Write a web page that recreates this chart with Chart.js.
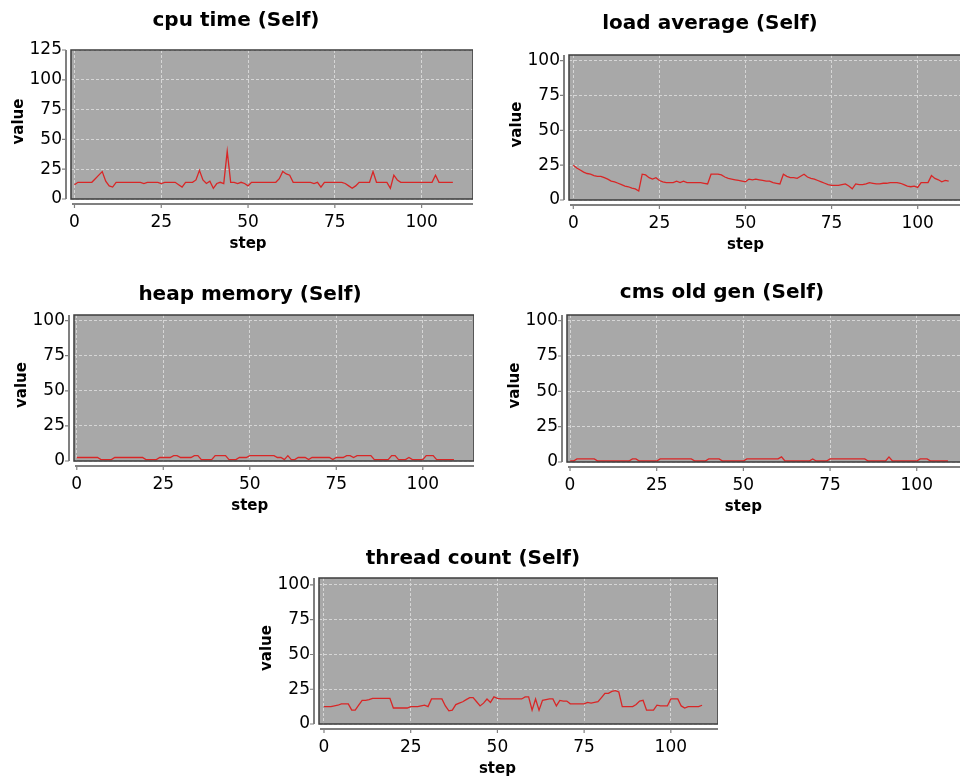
<!DOCTYPE html>
<html>
<head>
<meta charset="utf-8">
<script src="https://cdn.jsdelivr.net/npm/chart.js@4.4.1/dist/chart.umd.min.js"></script>
<style>
html,body{margin:0;padding:0;background:#ffffff;width:960px;height:780px;overflow:hidden;}
#wrap{position:relative;width:960px;height:780px;overflow:hidden;background:#ffffff;}
#wrap canvas{position:absolute;}
</style>
</head>
<body>
<div id="wrap">
<canvas id="c1"></canvas>
<canvas id="c2"></canvas>
<canvas id="c3"></canvas>
<canvas id="c4"></canvas>
<canvas id="c5"></canvas>
</div>
<script>
// ---------------- DATA ----------------
const steps = Array.from({length: 110}, (_, i) => i);
const xTickValues = [0, 25, 50, 75, 100];
const yTickValuesCpu = [0, 25, 50, 75, 100, 125];
const yTickValues = [0, 25, 50, 75, 100];
const xAxisTitle = 'step';
const yAxisTitle = 'value';

const chartTitles = ['cpu time (Self)', 'load average (Self)', 'heap memory (Self)', 'cms old gen (Self)', 'thread count (Self)'];

const cpuTime = [
  12,14,14,14,14,14,17,20,23,15, 11,10,14,14,14,14,14,14,14,14,
  13,14,14,14,14,13,14,14,14,14, 12,10,14,14,14,16,24,16,13,15,
  9,13,14,13,40,14,14,13,14,13, 11,14,14,14,14,14,14,14,14,17,
  23,21,20,14,14,14,14,14,14,13, 14,10,14,14,14,14,14,14,13,11,
  9,11,14,14,14,14,23,14,14,14, 14,9,20,16,14,14,14,14,14,14,
  14,14,14,14,20,14,14,14,14,14
];

const loadAverage = [
  25,23,21.5,20,19,18.5,17.5,17,17,16, 15,13.5,13,12,11,10,9.5,8.5,8,6.5,
  18.5,18,16,15,16,14,13,12.5,12.5,12.5, 13.5,12.5,13.5,12.5,12.5,12.5,12.5,12.5,12,11.5,
  18.5,18.5,18.5,18,16.5,15.5,15,14.5,14,13.5, 13,15,14.5,15,14.5,14,13.5,13.5,12.5,12,
  11.5,18.5,17,16,16,15.5,17,18.5,16.5,15.5, 15,14,13,12,11,10.5,10.5,10.5,11,11.5,
  10,8,11.5,11,11,11.5,12.5,12,11.5,11.5, 12,12,12.5,12.5,12.5,12,11,10,9.5,10,
  9,12.5,12.5,12.5,17.5,15.5,14.5,13,14,13.5
];

const heapMemory = [
  2.5,2.5,2.5,2.5,2.5,2.5,2.5,1,1,1, 1,2.5,2.5,2.5,2.5,2.5,2.5,2.5,2.5,2.5,
  1,1,1,1,2.5,2.5,2.5,2.5,3.8,3.8, 2.5,2.5,2.5,2.5,3.8,3.8,1,1,1,1,
  3.8,3.8,3.8,3.8,1,1,1,2.5,2.5,2.5, 3.8,3.8,3.8,3.8,3.8,3.8,3.8,3.8,2.5,2.5,
  1,3.8,1,1,2.5,2.5,2.5,1,2.5,2.5, 2.5,2.5,2.5,2.5,1,2.5,2.5,2.5,3.8,3.8,
  2.5,3.8,3.8,3.8,3.8,3.8,1,1,1,1, 1,3.8,3.8,1,1,1,2.5,1,1,1,
  1,3.8,3.8,3.8,1,1,1,1,1,1
];

const cmsOldGen = [
  0.7,0.7,2.2,2.2,2.2,2.2,2.2,2.2,0.7,0.7, 0.7,0.7,0.7,0.7,0.7,0.7,0.7,0.7,2.2,2.2,
  0.7,0.7,0.7,0.7,0.7,0.7,2.2,2.2,2.2,2.2, 2.2,2.2,2.2,2.2,2.2,2.2,0.7,0.7,0.7,0.7,
  2.2,2.2,2.2,2.2,0.7,0.7,0.7,0.7,0.7,0.7, 0.7,2.2,2.2,2.2,2.2,2.2,2.2,2.2,2.2,2.2,
  2.2,3.6,0.7,0.7,0.7,0.7,0.7,0.7,0.7,0.7, 2.2,0.7,0.7,0.7,0.7,2.2,2.2,2.2,2.2,2.2,
  2.2,2.2,2.2,2.2,2.2,2.2,0.7,0.7,0.7,0.7, 0.7,0.7,3.6,0.7,0.7,0.7,0.7,0.7,0.7,0.7,
  0.7,2.2,2.2,2.2,0.7,0.7,0.7,0.7,0.7,0.7
];

const threadCount = [
  12.5,12.5,12.5,13,13.5,14.5,14.5,14.5,10,10, 13.5,17,17,17.5,18.5,18.5,18.5,18.5,18.5,18.5,
  11.5,11.5,11.5,11.5,11.5,12.5,12.5,12.5,13,13.5, 12.5,18,18,18,18,13,9.5,10,14,15,
  16,17.5,19,19,16,13,15,18,15.5,19.5, 18.5,18,18,18,18,18,18,18,19.5,19.5,
  10,18,10,17,17.5,18,18,13,17,16.5, 16.5,14.5,14.5,14.5,14.5,14.5,15.5,15,15.5,16,
  19,22,22,23.5,24,23,12.5,12.5,12.5,12.5, 14,16.5,17,10,10,10,13.5,13,13,13,
  18,18,18,13,11.5,12.5,12.5,12.5,12.5,13.5
];

// ---------------- LAYOUT (positions of each panel's plot box) ----------------
const panels = [
  {id:'c1', title:chartTitles[0], values:cpuTime,     yTicks:yTickValuesCpu, yMax:125, PL:71,  PR:473, PT:50,  PB:199, CT:0,   TC:236, TY:21,  xMin:-1.0,  xMax:114.8},
  {id:'c2', title:chartTitles[1], values:loadAverage, yTicks:yTickValues,    yMax:104, PL:569, PR:969, PT:55,  PB:200, CT:0,   TC:710, TY:24,  xMin:-1.25, xMax:114.9},
  {id:'c3', title:chartTitles[2], values:heapMemory,  yTicks:yTickValues,    yMax:104, PL:74,  PR:474, PT:315, PB:461, CT:270, TC:250, TY:295, xMin:-0.8,  xMax:114.8},
  {id:'c4', title:chartTitles[3], values:cmsOldGen,   yTicks:yTickValues,    yMax:104, PL:567, PR:967, PT:315, PB:462, CT:270, TC:722, TY:293, xMin:-0.87, xMax:114.5},
  {id:'c5', title:chartTitles[4], values:threadCount, yTicks:yTickValues,    yMax:105, PL:319, PR:718, PT:578, PB:724, CT:535, TC:473, TY:559, xMin:-1.44, xMax:113.6}
];

const FONT = '"DejaVu Sans", Verdana, sans-serif';
const XH = 52;
const TITLE_SIZE = 20;

const framePlugin = {
  id: 'frame',
  beforeDraw(chart) {
    const {ctx, chartArea: a} = chart;
    ctx.save();
    ctx.fillStyle = '#a8a8a8';
    ctx.fillRect(a.left, a.top, a.right - a.left, a.bottom - a.top);
    ctx.restore();
  },
  afterDraw(chart, args, opts) {
    const {ctx, chartArea: a} = chart;
    const xs = chart.scales.x, ys = chart.scales.y;
    ctx.save();
    // plot border
    ctx.strokeStyle = '#3c3c3c';
    ctx.lineWidth = 1.5;
    ctx.strokeRect(a.left, a.top, a.right - a.left, a.bottom - a.top);
    // axis lines
    ctx.strokeStyle = '#808080';
    ctx.lineWidth = 2;
    ctx.beginPath();
    ctx.moveTo(a.left - 5, a.top);
    ctx.lineTo(a.left - 5, a.bottom);
    ctx.moveTo(a.left + 1, a.bottom + 5);
    ctx.lineTo(a.right, a.bottom + 5);
    ctx.stroke();
    // tick marks
    ctx.lineWidth = 1.2;
    ctx.beginPath();
    ys.ticks.forEach(t => {
      const y = ys.getPixelForValue(t.value);
      ctx.moveTo(a.left - 9, y); ctx.lineTo(a.left - 5, y);
    });
    xs.ticks.forEach(t => {
      const x = xs.getPixelForValue(t.value);
      ctx.moveTo(x, a.bottom + 5); ctx.lineTo(x, a.bottom + 9);
    });
    ctx.stroke();
    // axis titles
    ctx.fillStyle = '#000000';
    ctx.font = 'bold 15px ' + FONT;
    ctx.textAlign = 'center';
    ctx.textBaseline = 'middle';
    ctx.fillText(opts.xTitle, xs.getPixelForValue(50), a.bottom + 45);
    ctx.translate(a.left - 52, (a.top + a.bottom) / 2 - 3);
    ctx.rotate(-Math.PI / 2);
    ctx.fillText(opts.yTitle, 0, 0);
    ctx.restore();
  }
};

panels.forEach(p => {
  const a = 2 * p.TC - p.PR;          // outer left of title box
  const YW = p.PL - a;                // y-axis box width
  const CL = Math.min(a, p.PL - 70);  // canvas left
  const padL = a - CL;
  const W = p.PR - CL;
  const H = p.PB + XH - p.CT;
  const tPadTop = p.TY - p.CT - TITLE_SIZE * 0.6;
  const tPadBottom = (p.PT - p.CT) - tPadTop - TITLE_SIZE * 1.2;

  const cv = document.getElementById(p.id);
  cv.width = W; cv.height = H;
  cv.style.width = W + 'px'; cv.style.height = H + 'px';
  cv.style.left = CL + 'px'; cv.style.top = p.CT + 'px';

  new Chart(cv, {
    type: 'line',
    data: {
      datasets: [{
        label: p.title,
        data: steps.map((s, i) => ({x: s, y: p.values[i]})),
        borderColor: '#d92626',
        borderWidth: 1.3,
        pointRadius: 0,
        tension: 0,
        fill: false
      }]
    },
    options: {
      responsive: false,
      animation: false,
      devicePixelRatio: 1,
      layout: {padding: {left: padL, right: 0, top: 0, bottom: 0}},
      plugins: {
        legend: {display: false},
        tooltip: {enabled: false},
        title: {
          display: true,
          text: p.title,
          color: '#000000',
          font: {family: FONT, size: TITLE_SIZE, weight: 'bold', lineHeight: 1.2},
          padding: {top: tPadTop, bottom: tPadBottom}
        },
        frame: {xTitle: xAxisTitle, yTitle: yAxisTitle}
      },
      scales: {
        x: {
          type: 'linear',
          min: p.xMin,
          max: p.xMax,
          afterBuildTicks: s => { s.ticks = xTickValues.map(v => ({value: v})); },
          afterFit: s => { s.height = XH; },
          grid: {color: '#d6d6d6', lineWidth: 1, drawTicks: false},
          border: {display: false, dash: [3, 2]},
          ticks: {color: '#000000', padding: 13, maxRotation: 0, font: {family: FONT, size: 17}}
        },
        y: {
          type: 'linear',
          min: 0,
          max: p.yMax,
          afterBuildTicks: s => { s.ticks = p.yTicks.map(v => ({value: v})); },
          afterFit: s => { s.width = YW; },
          grid: {color: '#d6d6d6', lineWidth: 1, drawTicks: false},
          border: {display: false, dash: [3, 2]},
          ticks: {color: '#000000', padding: 9, font: {family: FONT, size: 17}}
        }
      }
    },
    plugins: [framePlugin]
  });
});
</script>
</body>
</html>
